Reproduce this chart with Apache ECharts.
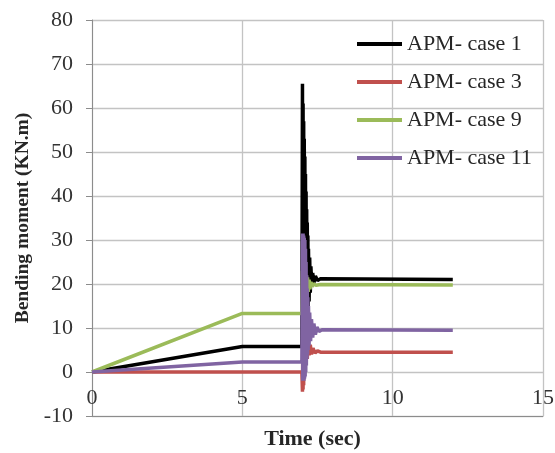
<!DOCTYPE html>
<html>
<head>
<meta charset="utf-8">
<script src="https://cdn.jsdelivr.net/npm/echarts@6/dist/echarts.min.js"></script>
<style>
html,body{margin:0;padding:0;background:#fff;}
#c{width:555px;height:453px;}
</style>
</head>
<body>
<div id="c"></div>
<script>
// Series names
var seriesNames = ['APM- case 1', 'APM- case 3', 'APM- case 9', 'APM- case 11'];
// Axis ticks
var xTicks = [0, 5, 10, 15];
var yTicks = [-10, 0, 10, 20, 30, 40, 50, 60, 70, 80];

// [time (sec), bending moment (KN.m)]
var case1 = [[0,0],[5,5.8],[6.98,5.8],[7.00,65.5],[7.01,8],[7.02,61],[7.03,9],[7.04,57],[7.05,10],[7.06,53],[7.07,10],[7.08,49],[7.09,11],[7.10,45],[7.11,11],[7.12,41],[7.13,12],[7.14,37],[7.15,12],[7.16,34],[7.17,13],[7.18,31],[7.19,14],[7.20,28],[7.22,16],[7.24,26],[7.26,18],[7.28,24],[7.31,19.5],[7.34,22.5],[7.38,20.3],[7.43,21.8],[7.5,20.8],[7.6,21.2],[12,21]];
var case3 = [[0,0],[6.98,0],[7.00,-4.5],[7.01,6],[7.02,-4],[7.03,7],[7.04,-3],[7.05,8],[7.06,-1.5],[7.07,8],[7.08,0.5],[7.10,8],[7.12,2],[7.14,7.5],[7.16,3],[7.19,7],[7.22,3.8],[7.26,6.2],[7.30,4],[7.35,5.4],[7.42,4.3],[7.5,4.8],[7.6,4.5],[12,4.5]];
var case9 = [[0,0],[5,13.3],[6.98,13.3],[7.00,23],[7.01,14],[7.02,23],[7.03,15],[7.05,23],[7.07,16],[7.09,22.5],[7.11,17],[7.13,22],[7.15,17.5],[7.17,21.5],[7.19,18.2],[7.22,21],[7.25,18.8],[7.28,20.5],[7.32,19.4],[7.37,20.1],[7.45,19.7],[7.6,19.9],[12,19.8]];
var case11 = [[0,0],[5,2.3],[6.98,2.3],[7.00,31.5],[7.01,-2],[7.02,31.5],[7.03,-2],[7.04,31],[7.05,-2],[7.06,30.5],[7.07,-1.5],[7.08,30],[7.09,-1],[7.10,28],[7.11,0],[7.12,25],[7.13,1.5],[7.14,22],[7.15,3],[7.16,19],[7.17,4],[7.18,17],[7.19,5],[7.20,15],[7.22,6],[7.24,13.5],[7.27,7],[7.30,12],[7.34,7.8],[7.38,11],[7.43,8.5],[7.48,10.2],[7.55,9.2],[7.65,9.6],[12,9.5]];

var colors = ['#000000', '#C0504D', '#9BBB59', '#8064A2'];
var allData = [case1, case3, case9, case11];

var chart = echarts.init(document.getElementById('c'), null, {renderer: 'canvas'});
var font = '"Liberation Serif", "Times New Roman", serif';
var gridColor = '#c3c3c3';
var axisColor = '#8c8c8c';

chart.setOption({
  animation: false,
  backgroundColor: '#ffffff',
  grid: {left: 92, right: 12, top: 20, bottom: 37, containLabel: false, outerBoundsMode: 'none'},
  legend: {
    orient: 'vertical',
    left: 352,
    top: 28,
    padding: 5,
    itemWidth: 45,
    itemHeight: 4,
    itemGap: 16,
    icon: 'rect',
    selectedMode: false,
    data: seriesNames,
    textStyle: {fontFamily: font, fontSize: 22, color: '#262626'}
  },
  xAxis: {
    type: 'value',
    min: xTicks[0],
    max: xTicks[xTicks.length - 1],
    interval: xTicks[1] - xTicks[0],
    name: 'Time (sec)',
    nameLocation: 'middle',
    nameGap: 12,
    nameTextStyle: {fontFamily: font, fontSize: 22, fontWeight: 'bold', color: '#262626', padding: [0, 10, 0, 0]},
    axisLine: {show: true, onZero: false, lineStyle: {color: axisColor, width: 1}},
    axisTick: {show: false},
    axisLabel: {fontFamily: font, fontSize: 22, color: '#333', margin: -29},
    splitLine: {show: true, lineStyle: {color: gridColor, width: 1.3}}
  },
  yAxis: {
    type: 'value',
    min: yTicks[0],
    max: yTicks[yTicks.length - 1],
    interval: yTicks[1] - yTicks[0],
    name: 'Bending moment (KN.m)',
    nameLocation: 'middle',
    nameGap: 53,
    nameRotate: 90,
    nameTextStyle: {fontFamily: font, fontSize: 19.5, fontWeight: 'bold', color: '#262626'},
    axisLine: {show: true, onZero: false, lineStyle: {color: axisColor, width: 1}},
    axisTick: {show: true, inside: false, length: 6, lineStyle: {color: axisColor}},
    axisLabel: {fontFamily: font, fontSize: 22, color: '#333', margin: 19},
    splitLine: {show: true, lineStyle: {color: gridColor, width: 1.3}}
  },
  series: seriesNames.map(function (n, i) {
    return {
      name: n,
      type: 'line',
      data: allData[i],
      showSymbol: false,
      symbol: 'none',
      color: colors[i],
      lineStyle: {color: colors[i], width: 3.5},
      itemStyle: {color: colors[i]}
    };
  })
});
</script>
</body>
</html>
